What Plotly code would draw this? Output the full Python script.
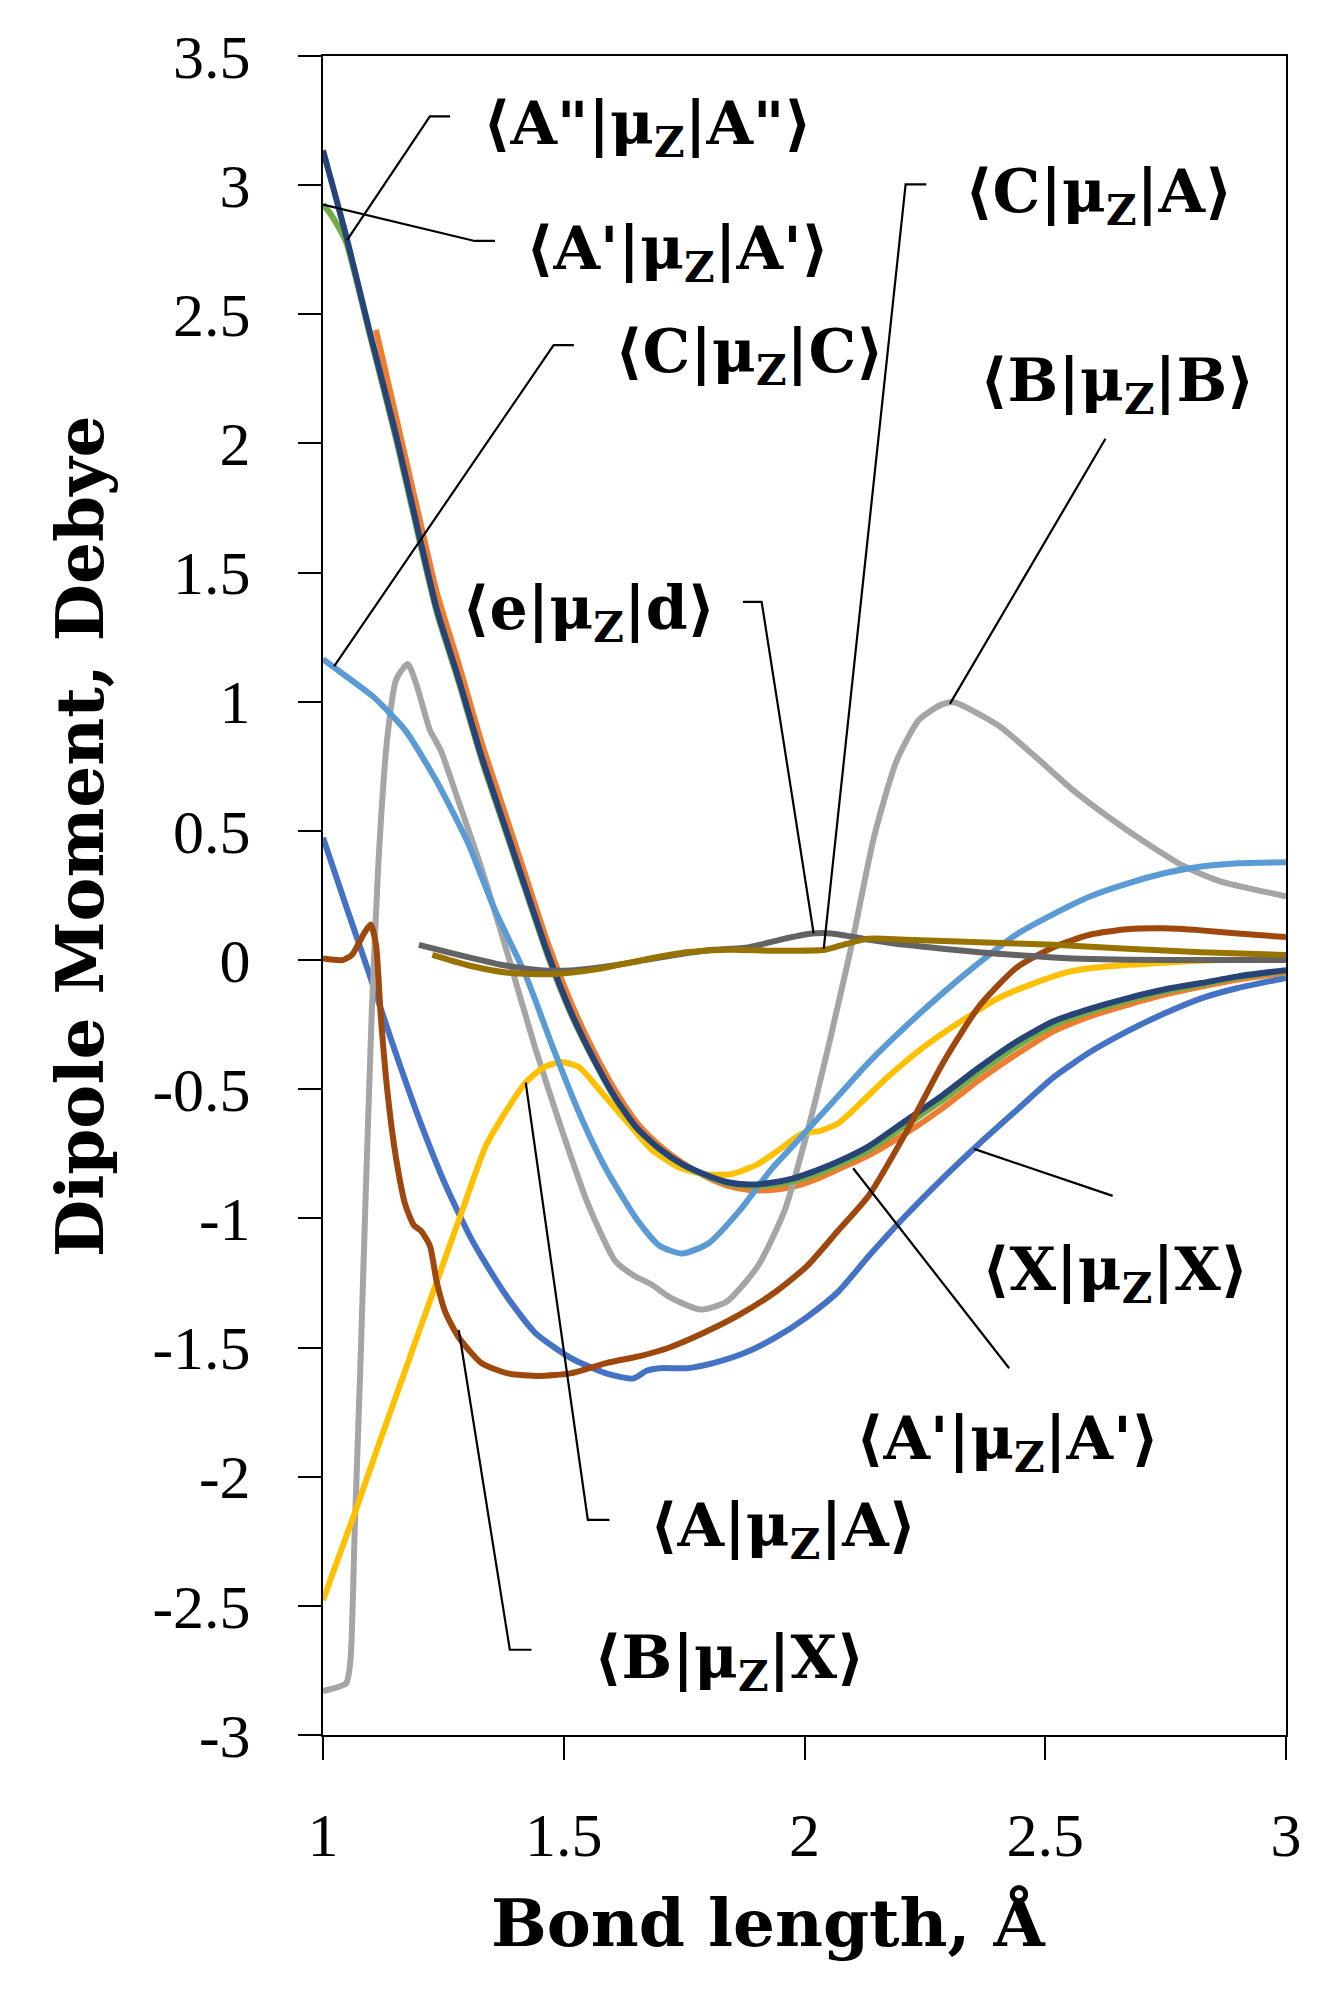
import plotly.graph_objs as go

# Bond length (Angstrom) and dipole moment (Debye)
x_XX = [1.0, 1.05, 1.097, 1.143, 1.199, 1.254, 1.31, 1.375, 1.44, 1.514, 1.588, 1.644, 1.672, 1.699, 1.755,
        1.81, 1.875, 1.94, 2.005, 2.07, 2.134, 2.21, 2.287, 2.363, 2.44, 2.517, 2.594, 2.67, 2.747, 2.824, 2.9, 3.0]
y_XX = [0.474, 0.198, -0.059, -0.316, -0.612, -0.869, -1.086, -1.284, -1.442, -1.54, -1.6, -1.62, -1.59, -1.58,
        -1.58, -1.56, -1.521, -1.461, -1.382, -1.284, -1.145, -0.99, -0.845, -0.711, -0.582, -0.454, -0.355,
        -0.276, -0.207, -0.148, -0.108, -0.069]

x_ApAp2 = [1.11, 1.152, 1.199, 1.236, 1.282, 1.329, 1.375, 1.421, 1.468, 1.514, 1.56, 1.607, 1.653, 1.699, 1.746,
           1.792, 1.838, 1.885, 1.931, 1.977, 2.024, 2.07, 2.134, 2.21, 2.287, 2.363, 2.44, 2.517, 2.594, 2.67,
           2.747, 2.824, 2.9, 3.0]
y_ApAp2 = [2.44, 2.1, 1.72, 1.425, 1.145, 0.845, 0.585, 0.325, 0.06, -0.16, -0.345, -0.505, -0.632, -0.718, -0.785,
           -0.835, -0.872, -0.89, -0.89, -0.877, -0.848, -0.81, -0.755, -0.671, -0.573, -0.464, -0.365, -0.276,
           -0.217, -0.174, -0.134, -0.103, -0.075, -0.049]

x_BB = [1.0, 1.048, 1.057, 1.066, 1.078, 1.087, 1.101, 1.115, 1.134, 1.152, 1.176, 1.194, 1.222, 1.231, 1.245,
        1.282, 1.329, 1.384, 1.44, 1.495, 1.551, 1.607, 1.648, 1.681, 1.718, 1.783, 1.838, 1.903, 1.959, 2.005,
        2.052, 2.098, 2.144, 2.191, 2.237, 2.283, 2.31, 2.402, 2.478, 2.555, 2.632, 2.709, 2.785, 2.862, 3.0]
y_BB = [-2.83, -2.8, -2.71, -2.2, -1.55, -1.007, -0.217, 0.375, 0.869, 1.086, 1.146, 1.067, 0.889, 0.859, 0.81,
        0.612, 0.356, 0.02, -0.336, -0.652, -0.948, -1.165, -1.224, -1.254, -1.303, -1.353, -1.323, -1.185,
        -0.968, -0.671, -0.316, 0.059, 0.474, 0.77, 0.928, 0.988, 0.998, 0.909, 0.79, 0.662, 0.553, 0.454,
        0.366, 0.306, 0.247]

x_AA = [1.0, 1.066, 1.113, 1.159, 1.199, 1.245, 1.291, 1.338, 1.375, 1.421, 1.458, 1.495, 1.532, 1.579, 1.634,
        1.681, 1.737, 1.792, 1.848, 1.903, 1.95, 1.996, 2.033, 2.07, 2.117, 2.172, 2.248, 2.325, 2.402, 2.478,
        2.555, 2.632, 2.747, 2.862, 3.0]
y_AA = [-2.478, -2.14, -1.89, -1.65, -1.44, -1.2, -0.96, -0.72, -0.6, -0.474, -0.415, -0.395, -0.415, -0.513,
        -0.632, -0.731, -0.8, -0.829, -0.829, -0.79, -0.731, -0.671, -0.661, -0.632, -0.553, -0.454, -0.336,
        -0.237, -0.148, -0.089, -0.043, -0.024, -0.01, 0.0, 0.004]

x_CC = [1.0, 1.05, 1.106, 1.171, 1.236, 1.301, 1.356, 1.421, 1.477, 1.532, 1.588, 1.653, 1.699, 1.746, 1.801,
        1.866, 1.931, 1.98, 2.057, 2.134, 2.21, 2.287, 2.363, 2.44, 2.517, 2.594, 2.67, 2.747, 2.824, 2.9, 3.0]
y_CC = [1.165, 1.096, 1.017, 0.889, 0.692, 0.454, 0.198, -0.059, -0.336, -0.592, -0.81, -1.007, -1.106, -1.136,
        -1.096, -0.968, -0.81, -0.711, -0.553, -0.395, -0.257, -0.128, -0.01, 0.099, 0.178, 0.247, 0.296, 0.336,
        0.362, 0.375, 0.379]

x_ApAp1 = [1.0, 1.015, 1.03, 1.048, 1.096, 1.152, 1.199, 1.236, 1.282, 1.329, 1.375, 1.421, 1.468, 1.514, 1.56,
           1.607, 1.653, 1.699, 1.746, 1.792, 1.838, 1.885, 1.931, 1.977, 2.024, 2.07, 2.134, 2.21, 2.287, 2.363,
           2.44, 2.517, 2.594, 2.67, 2.747, 2.824, 2.9, 3.0]
y_ApAp1 = [2.925, 2.89, 2.845, 2.78, 2.43, 2.015, 1.635, 1.348, 1.075, 0.778, 0.522, 0.267, 0.01, -0.205, -0.38,
           -0.537, -0.654, -0.733, -0.792, -0.832, -0.863, -0.875, -0.871, -0.856, -0.828, -0.793, -0.736, -0.64,
           -0.542, -0.435, -0.335, -0.252, -0.199, -0.158, -0.121, -0.094, -0.067, -0.042]

x_AppApp = [1.0, 1.05, 1.096, 1.152, 1.199, 1.236, 1.282, 1.329, 1.375, 1.421, 1.468, 1.514, 1.56, 1.607, 1.653,
            1.699, 1.746, 1.792, 1.838, 1.885, 1.931, 1.977, 2.024, 2.07, 2.134, 2.21, 2.287, 2.363, 2.44, 2.517,
            2.594, 2.67, 2.747, 2.824, 2.9, 3.0]
y_AppApp = [3.135, 2.79, 2.44, 2.03, 1.65, 1.36, 1.087, 0.79, 0.533, 0.277, 0.02, -0.197, -0.375, -0.533, -0.652,
            -0.731, -0.79, -0.829, -0.859, -0.869, -0.862, -0.845, -0.815, -0.78, -0.72, -0.622, -0.523, -0.415,
            -0.316, -0.237, -0.188, -0.148, -0.114, -0.089, -0.063, -0.039]

x_BX = [1.0, 1.041, 1.06, 1.087, 1.099, 1.11, 1.12, 1.134, 1.152, 1.171, 1.189, 1.203, 1.222, 1.236, 1.254, 1.282,
        1.329, 1.384, 1.449, 1.514, 1.588, 1.663, 1.718, 1.792, 1.866, 1.94, 2.005, 2.07, 2.134, 2.21, 2.287,
        2.363, 2.44, 2.517, 2.594, 2.67, 2.747, 2.824, 2.9, 3.0]
y_BX = [0.006, 0.0, 0.02, 0.109, 0.138, 0.06, -0.217, -0.513, -0.77, -0.948, -1.027, -1.047, -1.106, -1.244,
        -1.363, -1.461, -1.56, -1.6, -1.61, -1.6, -1.56, -1.531, -1.501, -1.442, -1.372, -1.284, -1.185, -1.047,
        -0.91, -0.67, -0.4, -0.178, -0.03, 0.05, 0.099, 0.119, 0.123, 0.115, 0.103, 0.089]

x_ed = [1.199, 1.282, 1.375, 1.458, 1.514, 1.607, 1.699, 1.792, 1.885, 1.959, 2.015, 2.057, 2.134, 2.21, 2.287,
        2.363, 2.44, 2.517, 2.594, 2.747, 3.0]
y_ed = [0.059, 0.02, -0.02, -0.04, -0.04, -0.02, 0.01, 0.036, 0.05, 0.083, 0.103, 0.103, 0.079, 0.059, 0.044,
        0.03, 0.02, 0.01, 0.004, 0.0, 0.0]

x_CA = [1.227, 1.301, 1.384, 1.477, 1.57, 1.662, 1.755, 1.848, 1.94, 2.043, 2.08, 2.134, 2.21, 2.363, 2.517,
        2.67, 2.824, 3.0]
y_CA = [0.02, -0.02, -0.049, -0.055, -0.035, 0.0, 0.03, 0.04, 0.036, 0.04, 0.059, 0.083, 0.079, 0.069, 0.059,
        0.044, 0.03, 0.02]

# series in drawing order (Excel palette colours)
series = [
    (x_XX, y_XX, '#4472C4'),
    (x_ApAp2, y_ApAp2, '#ED7D31'),
    (x_BB, y_BB, '#A5A5A5'),
    (x_AA, y_AA, '#FFC000'),
    (x_CC, y_CC, '#5B9BD5'),
    (x_ApAp1, y_ApAp1, '#70AD47'),
    (x_AppApp, y_AppApp, '#264478'),
    (x_BX, y_BX, '#9E480E'),
    (x_ed, y_ed, '#636363'),
    (x_CA, y_CA, '#997300'),
]

# label texts, where the text starts, and the leader line pointing at the curve
label_text = [
    '⟨A"|<b>μ</b><sub>Z</sub>|A"⟩',
    "⟨A'|<b>μ</b><sub>Z</sub>|A'⟩",
    '⟨C|<b>μ</b><sub>Z</sub>|C⟩',
    '⟨C|<b>μ</b><sub>Z</sub>|A⟩',
    '⟨B|<b>μ</b><sub>Z</sub>|B⟩',
    '⟨e|<b>μ</b><sub>Z</sub>|d⟩',
    '⟨X|<b>μ</b><sub>Z</sub>|X⟩',
    "⟨A'|<b>μ</b><sub>Z</sub>|A'⟩",
    '⟨A|<b>μ</b><sub>Z</sub>|A⟩',
    '⟨B|<b>μ</b><sub>Z</sub>|X⟩',
]
label_x = [1.328, 1.417, 1.602, 2.33, 2.36, 1.284, 2.364, 2.102, 1.674, 1.558]
label_y = [3.223, 2.739, 2.339, 2.96, 2.23, 1.344, -1.215, -1.866, -2.206, -2.716]
leader_x = [[1.264, 1.222, 1.05], [1.357, 1.315, 1.0], [1.521, 1.479, 1.023], [2.253, 2.21, 2.04],
            [2.625, 2.302], [1.872, 1.911, 2.019], [2.64, 2.352], [2.425, 2.101],
            [1.595, 1.55, 1.421], [1.433, 1.388, 1.282]]
leader_y = [[3.266, 3.266, 2.787], [2.784, 2.784, 2.925], [2.381, 2.381, 1.137], [3.003, 3.003, 0.044],
            [2.018, 0.992], [1.387, 1.387, 0.103], [-0.913, -0.731], [-1.58, -0.806],
            [-2.167, -2.167, -0.474], [-2.67, -2.67, -1.432]]

y_ticks = [3.5, 3, 2.5, 2, 1.5, 1, 0.5, 0, -0.5, -1, -1.5, -2, -2.5, -3]
x_ticks = [1, 1.5, 2, 2.5, 3]

data = []
for xs, ys, col in series:
    data.append(go.Scatter(x=xs, y=ys, mode='lines', hoverinfo='skip',
                           line=dict(color=col, width=6, shape='spline', smoothing=0.6)))
for lx, ly in zip(leader_x, leader_y):
    data.append(go.Scatter(x=lx, y=ly, mode='lines', hoverinfo='skip', line=dict(color='black', width=2.2)))

annotations = []
for t, ax, ay in zip(label_text, label_x, label_y):
    annotations.append(dict(x=ax, y=ay, xref='x', yref='y', text='<b>' + t + '</b>', showarrow=False,
                            xanchor='left', yanchor='middle',
                            font=dict(family='DejaVu Serif', size=60, color='black')))
# axis titles as annotations so they can sit where the reference puts them
annotations.append(dict(x=-0.2523, y=0.5354, xref='paper', yref='paper', text='<b>Dipole Moment, Debye</b>',
                        textangle=-90, showarrow=False, xanchor='center', yanchor='middle',
                        font=dict(family='DejaVu Serif', size=66, color='black')))
annotations.append(dict(x=0.4631, y=-0.112, xref='paper', yref='paper', text='<b>Bond length, Å</b>',
                        showarrow=False, xanchor='center', yanchor='middle',
                        font=dict(family='DejaVu Serif', size=66, color='black')))

axis_font = dict(family='Liberation Serif', size=62, color='black')
layout = go.Layout(
    width=1329, height=1989,
    margin=dict(l=315, r=51, t=48, b=262),
    paper_bgcolor='white', plot_bgcolor='white',
    showlegend=False,
    xaxis=dict(range=[1, 3], tickvals=x_ticks, ticktext=[str(v) for v in x_ticks], tickfont=axis_font,
               showgrid=False, zeroline=False, showline=True, linecolor='black', linewidth=2, mirror=True,
               ticks='outside', ticklen=23, tickwidth=2, tickcolor='black', ticklabelstandoff=22),
    yaxis=dict(range=[-3, 3.5], tickvals=y_ticks, ticktext=[('%g' % v) for v in y_ticks], tickfont=axis_font,
               showgrid=False, zeroline=False, showline=True, linecolor='black', linewidth=2, mirror=True,
               ticks='outside', ticklen=23, tickwidth=2, tickcolor='black', ticklabelstandoff=35),
    annotations=annotations,
)

fig = go.Figure(data=data, layout=layout)
fig.write_html("out.html")
